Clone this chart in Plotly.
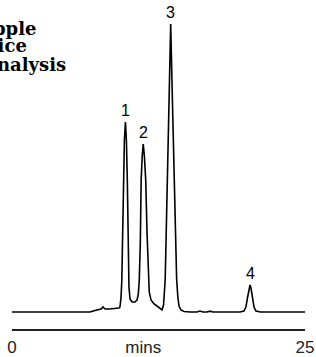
import plotly.graph_objects as go

# Chromatogram data: retention time (min) and detector signal
time_min = [0.00, 4.10, 6.65, 7.08, 7.34, 7.60, 7.76, 7.94, 8.30, 8.90, 9.12,
            9.21, 9.30, 9.37, 9.43, 9.50, 9.59, 9.68, 9.76, 9.84, 9.91, 9.98, 10.07,
            10.24, 10.49, 10.67,
            10.78, 10.86, 10.95, 11.02, 11.12, 11.20, 11.30, 11.41, 11.52, 11.63, 11.71,
            11.86, 12.12, 12.37, 12.63, 12.80,
            12.93, 12.99, 13.07, 13.16, 13.25, 13.40, 13.54, 13.68, 13.82, 13.95, 14.05,
            14.15, 14.25, 14.42, 14.68, 15.19, 15.78, 16.04, 16.30, 16.64, 16.89, 17.15,
            19.45, 19.79, 19.96, 20.09, 20.22, 20.31, 20.39, 20.52, 20.65, 20.82, 21.20,
            25.00]
signal = [0, 0, 0, 1.5, 2, 3, 5, 3, 3, 3.5, 4,
          5, 14, 32, 70, 132, 172, 190, 172, 132, 60, 25, 13,
          10, 10, 12,
          18, 32, 70, 132, 158, 168, 155, 132, 80, 32, 20,
          12, 8, 6, 3, 2,
          7, 18, 32, 80, 132, 220, 288, 215, 132, 75, 32,
          15, 6, 2, 0.5, 0, 0, 1, 0, 0, 0.8, 0,
          0, 1, 5, 14, 24, 27, 24, 14, 5, 1, 0,
          0]

peak_labels = ["1", "2", "3", "4"]
peak_times = [9.68, 11.20, 13.54, 20.31]
peak_heights = [190, 168, 288, 27]

title_lines = ["Apple", "Juice", "Analysis"]
x_ticks = [0, 11.2, 25]
x_ticktext = ["0", "mins", "25"]

W, H = 316, 357
ML, MR, MT, MB = 12, 11, 0, 28
PW, PH = W - ML - MR, H - MT - MB

def px_x(p):
    return (p - ML) / PW

def px_y(p):
    return (H - MB - p) / PH

fig = go.Figure()
fig.add_trace(go.Scatter(x=time_min, y=signal, mode="lines",
                         line=dict(color="black", width=1.6),
                         hoverinfo="skip", showlegend=False))

annotations = []
for lab, t, s in zip(peak_labels, peak_times, peak_heights):
    annotations.append(dict(x=t, y=s, xref="x", yref="y", text=lab,
                            showarrow=False, yanchor="bottom", yshift=1,
                            font=dict(family="Liberation Sans, Arial", size=16, color="black")))

title_right = [37, 28, 67]
title_mid = [28, 46, 64]
for txt, r, m in zip(title_lines, title_right, title_mid):
    annotations.append(dict(x=px_x(r), y=px_y(m), xref="paper", yref="paper",
                            text="<b>" + txt + "</b>", showarrow=False,
                            xanchor="right", yanchor="middle", borderpad=0,
                            font=dict(family="DejaVu Serif", size=18, color="black")))

fig.update_layout(
    width=W, height=H,
    margin=dict(l=ML, r=MR, t=MT, b=MB, autoexpand=False),
    paper_bgcolor="white", plot_bgcolor="white",
    annotations=annotations,
    xaxis=dict(range=[0, 25], showgrid=False, zeroline=False,
               showline=True, linecolor="#222", linewidth=1.5,
               tickvals=x_ticks, ticktext=x_ticktext, ticks="",
               ticklabelstandoff=2,
               tickfont=dict(family="Liberation Sans, Arial", size=17, color="#222")),
    yaxis=dict(range=[-17, 312], visible=False, showgrid=False, zeroline=False),
)

fig.write_html("out.html", config={"displayModeBar": False},
               post_script="document.body.style.margin='0';document.body.style.overflow='hidden';")
